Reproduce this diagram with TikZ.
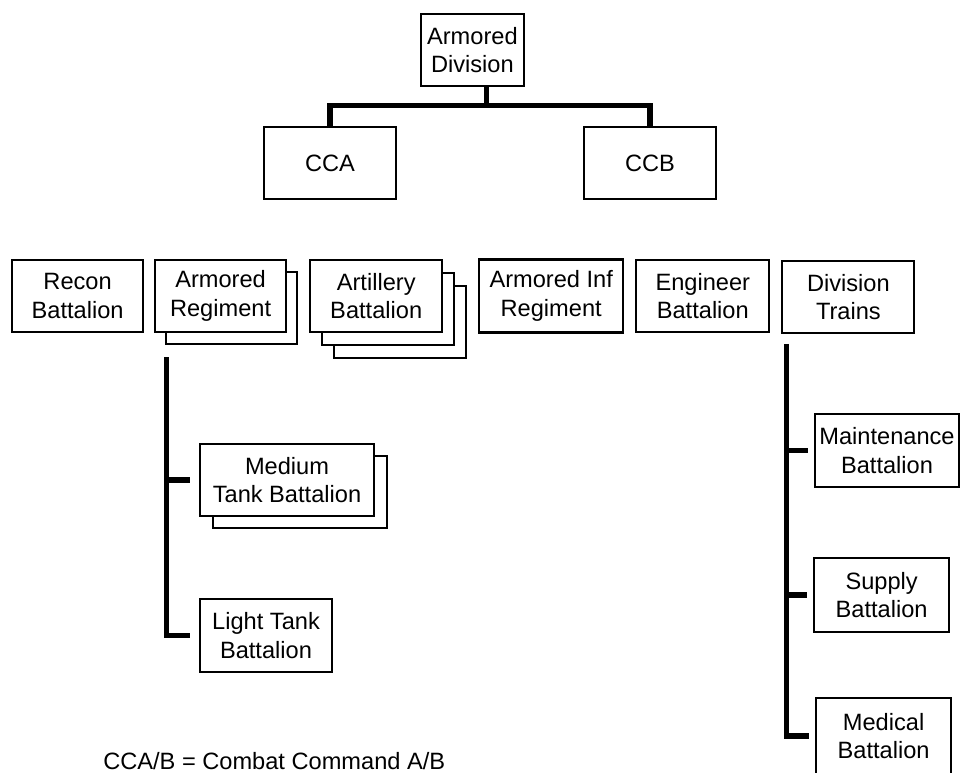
\documentclass[tikz,border=0pt]{standalone}
\usepackage{fontspec}
\setmainfont{Liberation Sans}
\usetikzlibrary{positioning,shadows}
\newcommand{\boxfont}{\fontsize{16.8}{20.3}\selectfont}

\begin{document}
\begin{tikzpicture}[thin]
\tikzstyle{unit}=[shape=rectangle,draw,line width=1.5pt,fill=white,text=black,align=center,inner sep=0pt,minimum width=3.3cm,minimum height=1.8cm,font=\boxfont]
\tikzstyle{bar}=[line width=3.6pt]
\useasboundingbox (0,0) rectangle (24.025,-19.3);

% top of the tree
\node[unit]         (div) at (11.81,-1.25) [minimum width=2.575cm] {Armored\\Division};
\node[unit]         (cca) at (8.25,-4.075) {CCA};
\node[unit]         (ccb) [right of=cca,node distance=8cm] {CCB};

% divisional units
\node[unit]         (recon) at (1.94,-7.4) [minimum width=3.275cm] {Recon\\Battalion};
\node[unit]         (armreg) [right of=recon,node distance=3.575cm,minimum width=3.275cm,copy shadow={shadow xshift=0.275cm,shadow yshift=-0.3cm}] {Armored\\Regiment};
\node[unit]         (art) [right of=armreg,node distance=3.89cm,double copy shadow={shadow xshift=0.3cm,shadow yshift=-0.325cm}] {Artillery\\Battalion};
\node[unit]         (arminf) [right of=art,node distance=4.375cm,minimum width=3.6cm,minimum height=1.825cm] {Armored Inf\\Regiment};
\node[unit]         (eng) [right of=arminf,node distance=3.79cm,minimum width=3.325cm] {Engineer\\Battalion};
\node[unit]         (trains) [right of=eng,node distance=3.64cm,yshift=-0.025cm] {Division\\Trains};

% tank battalions
\node[unit]         (medtank) at (7.175,-12) [minimum width=4.35cm,copy shadow={shadow xshift=0.325cm,shadow yshift=-0.3cm}] {Medium\\Tank Battalion};
\node[unit]         (light) [below of=medtank,node distance=3.89cm,xshift=-0.525cm,minimum height=1.825cm] {Light Tank\\Battalion};

% trains units
\node[unit]         (maint) at (22.175,-11.26) [minimum width=3.6cm,minimum height=1.825cm] {Maintenance\\Battalion};
\node[unit]         (supply) [below of=maint,node distance=3.615cm,xshift=-0.135cm,minimum width=3.375cm,minimum height=1.85cm] {Supply\\Battalion};
\node[unit]         (medical) [below of=supply,node distance=3.525cm,xshift=0.05cm,minimum width=3.375cm,minimum height=1.9cm] {Medical\\Battalion};

\coordinate (fork) at (12.17,-2.645);
\coordinate (regtop) at ([xshift=0.315cm,yshift=-0.6cm]armreg.south west);
\coordinate (trtop) at ([xshift=0.125cm,yshift=-0.245cm]trains.south west);

\draw[bar] (fork) -- (fork |- div.south);
\draw[bar] (cca.north) |- (fork) -| (ccb.north);
\draw[bar] (regtop) |- ([xshift=-0.225cm]light.west);
\draw[bar] (regtop |- medtank) -- ([xshift=-0.225cm]medtank.west);
\draw[bar] (trtop) |- ([xshift=-0.15cm]medical.west);
\draw[bar] (trtop |- maint) -- ([xshift=-0.15cm]maint.west);
\draw[bar] (trtop |- supply) -- ([xshift=-0.15cm]supply.west);

\node[font=\boxfont,anchor=base west,inner sep=0pt] (note) at (2.575,-19.225) {CCA/B = Combat Command A/B};
\end{tikzpicture}
\end{document}
